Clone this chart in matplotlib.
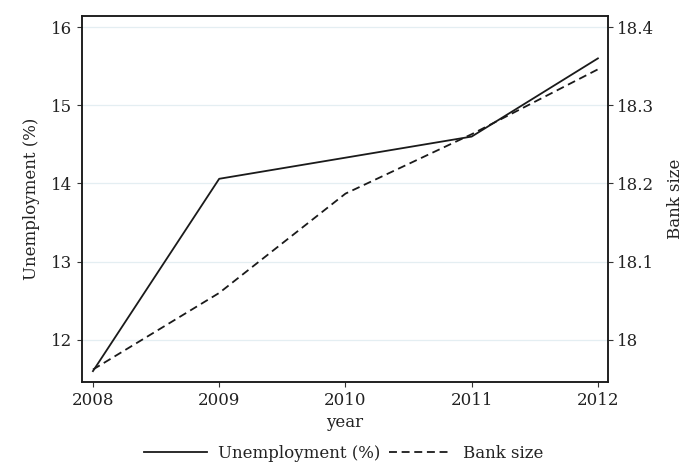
import matplotlib
matplotlib.use("Agg")
import matplotlib.pyplot as plt

years = [2008, 2009, 2010, 2011, 2012]
unemployment = [11.60, 14.06, 14.33, 14.60, 15.60]
bank_size = [17.962, 18.060, 18.187, 18.263, 18.346]

left_ticks = [12, 13, 14, 15, 16]
right_ticks = [18.0, 18.1, 18.2, 18.3, 18.4]
right_labels = ["18", "18.1", "18.2", "18.3", "18.4"]

plt.rcParams['font.family'] = ['DejaVu Serif']
plt.rcParams['font.size'] = 12

fig = plt.figure(figsize=(6.83, 4.62), dpi=100)
ax = fig.add_axes([0.120, 0.173, 0.770, 0.792])
ax2 = ax.twinx()

grid_c = '#e4eef2'
for t in left_ticks:
    ax.axhline(t, color=grid_c, lw=0.9, zorder=0)

l1, = ax.plot(years, unemployment, color='#1a1a1a', lw=1.3, label='Unemployment (%)')
l2, = ax2.plot(years, bank_size, color='#1a1a1a', lw=1.3, linestyle=(0, (4.4, 2.6)), label='Bank size')

ax.set_xlim(2007.913, 2012.079)
ax.set_ylim(11.46, 16.14)
ax2.set_ylim(17.946, 18.414)

ax.set_xticks(years)
ax.set_xticklabels([str(y) for y in years])
ax.set_yticks(left_ticks)
ax2.set_yticks(right_ticks)
ax2.set_yticklabels(right_labels)

for a in (ax, ax2):
    a.tick_params(direction='out', length=3.8, width=0.8, color='#333333', labelcolor='#222222', labelsize=12, pad=3)
    for s in a.spines.values():
        s.set_color('#1a1a1a')
        s.set_linewidth(1.1)

ax.set_xlabel('year', fontsize=12, labelpad=4, color='#222222')
ax.set_ylabel('Unemployment (%)', fontsize=12, labelpad=8, color='#222222')
ax2.set_ylabel('Bank size', fontsize=12, labelpad=9, color='#222222')

fig.legend([l1, l2], ['Unemployment (%)', 'Bank size'], loc='lower center',
           bbox_to_anchor=(0.503, -0.032), ncol=2, frameon=False, fontsize=12,
           handlelength=3.8, columnspacing=0.5, handletextpad=0.65, labelcolor='#222222')

fig.savefig('out.png', dpi=100)
